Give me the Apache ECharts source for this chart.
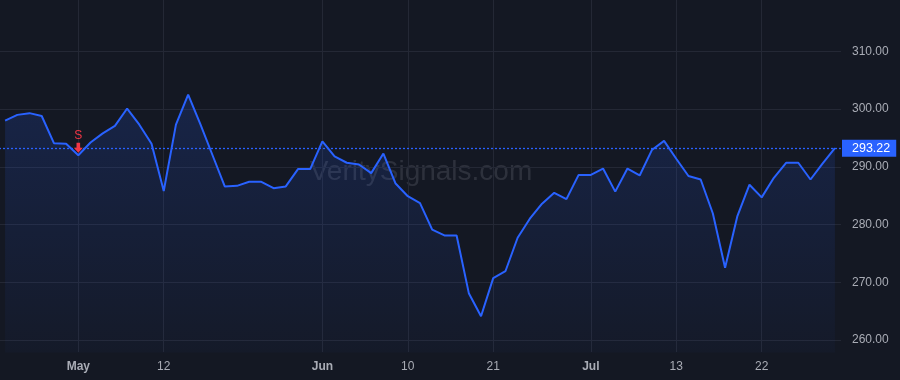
<!DOCTYPE html>
<html>
<head>
<meta charset="utf-8">
<script src="https://cdn.jsdelivr.net/npm/echarts@6/dist/echarts.min.js"></script>
<style>
html,body{margin:0;padding:0;background:#141823;}
#chart{width:900px;height:380px;}
</style>
</head>
<body>
<div id="chart"></div>
<script>
// Trading days (2021)
const dates = [
  '2021-04-23','2021-04-26','2021-04-27','2021-04-28','2021-04-29','2021-04-30',
  '2021-05-03','2021-05-04','2021-05-05','2021-05-06','2021-05-07',
  '2021-05-10','2021-05-11','2021-05-12','2021-05-13','2021-05-14',
  '2021-05-17','2021-05-18','2021-05-19','2021-05-20','2021-05-21',
  '2021-05-24','2021-05-25','2021-05-26','2021-05-27','2021-05-28',
  '2021-06-01','2021-06-02','2021-06-03','2021-06-04',
  '2021-06-07','2021-06-08','2021-06-09','2021-06-10','2021-06-11',
  '2021-06-14','2021-06-15','2021-06-16','2021-06-17','2021-06-18',
  '2021-06-21','2021-06-22','2021-06-23','2021-06-24','2021-06-25',
  '2021-06-28','2021-06-29','2021-06-30','2021-07-01','2021-07-02',
  '2021-07-06','2021-07-07','2021-07-08','2021-07-09',
  '2021-07-12','2021-07-13','2021-07-14','2021-07-15','2021-07-16',
  '2021-07-19','2021-07-20','2021-07-21','2021-07-22','2021-07-23',
  '2021-07-26','2021-07-27','2021-07-28','2021-07-29','2021-07-30'
];
const closes = [
  298.0, 299.0, 299.3, 298.8, 294.1, 294.0,
  292.0, 294.2, 295.8, 297.1, 300.1,
  297.3, 294.0, 285.8, 297.3, 302.5,
  297.4, 292.0, 286.6, 286.7, 287.4,
  287.4, 286.3, 286.6, 289.6, 289.6,
  294.4, 291.8, 290.7, 290.4,
  288.9, 292.3, 287.1, 284.9, 283.7,
  279.1, 278.1, 278.1, 268.1, 264.1,
  270.7, 271.9, 277.7, 281.0, 283.6,
  285.5, 284.4, 288.6, 288.6, 289.7,
  285.7, 289.7, 288.5, 292.9,
  294.5, 291.4, 288.4, 287.8, 281.9,
  272.5, 281.4, 286.9, 284.7, 288.1,
  290.7, 290.7, 287.8, 290.6, 293.22
];
// x-axis tick labels
const tickDates  = ['2021-05-03','2021-05-12','2021-06-01','2021-06-10','2021-06-21','2021-07-01','2021-07-13','2021-07-22'];
const tickLabels = ['May','12','Jun','10','21','Jul','13','22'];
const monthLabels = ['May','Jun','Jul'];
// y-axis ticks
const yMin = 250, yMax = 320, yStep = 10;
// signals
const signalDates  = ['2021-05-03'];
const signalLabels = ['S'];
// watermark
const watermark = 'VeritySignals.com';

const lastClose = closes[closes.length - 1];
const FONT = '"Liberation Sans", Arial, sans-serif';
const LABEL_COLOR = '#a9acb5';
const GRID_COLOR = '#242835';
const BLUE = '#2962ff';

const tickShow = (idx) => tickDates.indexOf(dates[idx]) >= 0;

const chart = echarts.init(document.getElementById('chart'), null, {renderer: 'canvas'});
chart.setOption({
  backgroundColor: '#141823',
  animation: false,
  textStyle: {fontFamily: FONT},
  grid: [
    {left: -1, width: 842, top: -6.3, height: 403.9, containLabel: false, outerBoundsMode: 'none'},
    {left: 5.1, width: 829.8, top: 0, height: 352, containLabel: false, outerBoundsMode: 'none'}
  ],
  xAxis: [
    {type: 'category', gridIndex: 0, data: dates, boundaryGap: true, show: false},
    {
      type: 'category', gridIndex: 1, data: dates, boundaryGap: false,
      axisLine: {show: false}, axisTick: {show: false},
      axisLabel: {
        interval: (i) => tickShow(i),
        formatter: (v) => {
          const k = tickDates.indexOf(v);
          if (k < 0) return '';
          const t = tickLabels[k];
          return monthLabels.indexOf(t) >= 0 ? '{m|' + t + '}' : t;
        },
        color: LABEL_COLOR, fontSize: 12, margin: 9, fontFamily: FONT,
        rich: {m: {fontWeight: 'bold', fontSize: 12, color: LABEL_COLOR, fontFamily: FONT}}
      },
      splitLine: {show: true, interval: (i) => tickShow(i), lineStyle: {color: GRID_COLOR, width: 1}}
    }
  ],
  yAxis: [
    {
      type: 'value', gridIndex: 0, position: 'right', min: yMin, max: yMax, interval: yStep,
      axisLine: {show: false}, axisTick: {show: false},
      axisLabel: {formatter: (v) => v.toFixed(2), color: LABEL_COLOR, fontSize: 12, margin: 11, fontFamily: FONT},
      splitLine: {show: true, lineStyle: {color: GRID_COLOR, width: 1}}
    },
    {type: 'value', gridIndex: 1, show: false}
  ],
  graphic: [{
    type: 'text', x: 421, y: 172, silent: true, z: 0,
    style: {text: watermark, font: '28px ' + FONT, fill: 'rgba(178,181,190,0.16)', align: 'center', verticalAlign: 'middle'}
  }],
  series: [{
    type: 'line', xAxisIndex: 0, yAxisIndex: 0, data: closes,
    symbol: 'none', smooth: false, color: BLUE,
    lineStyle: {color: BLUE, width: 2},
    areaStyle: {
      origin: 257.8,
      color: new echarts.graphic.LinearGradient(0, 0, 0, 1, [
        {offset: 0, color: 'rgba(41,98,255,0.24)'},
        {offset: 1, color: 'rgba(41,98,255,0.04)'}
      ])
    },
    markLine: {
      silent: true, symbol: ['none', 'none'], precision: 2,
      itemStyle: {color: BLUE},
      lineStyle: {color: BLUE, width: 1.3, type: [2, 2], opacity: 1},
      emphasis: {disabled: true},
      label: {
        show: true, position: 'end', distance: 1,
        formatter: (p) => Number(p.value).toFixed(2),
        color: '#ffffff', backgroundColor: BLUE, fontSize: 12.5,
        padding: [2, 6, 2, 10], fontFamily: FONT
      },
      data: [{yAxis: lastClose, itemStyle: {color: BLUE}, lineStyle: {color: BLUE, width: 1.3, type: [2, 2]}}]
    },
    markPoint: {
      silent: true,
      symbol: 'path://M3,0L7,0L7,5L10,5L5,10L0,5L3,5Z',
      symbolSize: [9, 10], symbolOffset: [0, -7.5], symbolKeepAspect: false,
      itemStyle: {color: '#f23645'},
      label: {show: true, position: 'top', distance: 1, formatter: (p) => p.name, color: '#f23645', fontSize: 12, fontFamily: FONT},
      data: signalDates.map((d, k) => ({name: signalLabels[k], coord: [d, closes[dates.indexOf(d)]]}))
    }
  }]
});
</script>
</body>
</html>
